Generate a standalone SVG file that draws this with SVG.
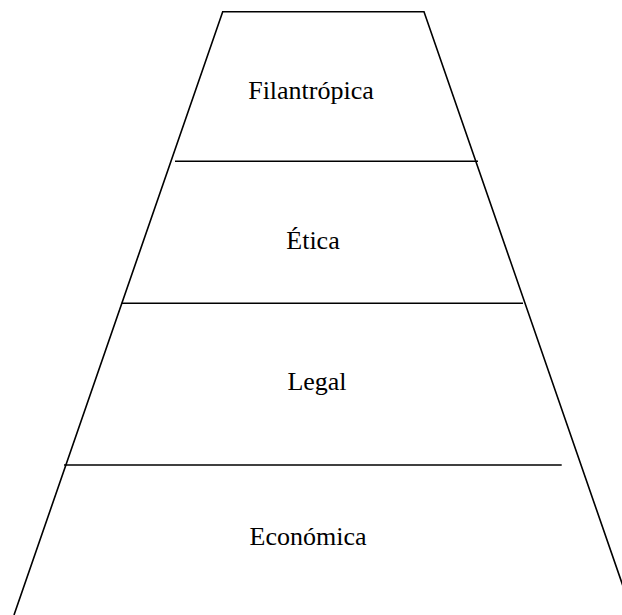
<svg xmlns="http://www.w3.org/2000/svg" width="622" height="615" viewBox="0 0 622 615">
<style>
.ln{stroke:#000;stroke-width:1.6;fill:none}
.t{font-family:"Liberation Serif","Times New Roman",serif;font-size:26px;fill:#000;text-anchor:middle}
</style>
<rect width="622" height="615" fill="#fff"/>
<g id="connectors">
<polyline class="ln" points="14,615 222.7,11.7 424,11.7 633,615"/>
<line class="ln" x1="175" y1="161.3" x2="478" y2="161.3"/>
<line class="ln" x1="121.7" y1="303.3" x2="523" y2="303.3"/>
<line class="ln" x1="64" y1="465" x2="561.7" y2="465"/>
</g>
<g id="filantropica"><text class="t" x="311" y="99">Filantrópica</text></g>
<g id="etica"><text class="t" x="313" y="249">Ética</text></g>
<g id="legal"><text class="t" x="317" y="390">Legal</text></g>
<g id="economica"><text class="t" x="308" y="545">Económica</text></g>
</svg>
